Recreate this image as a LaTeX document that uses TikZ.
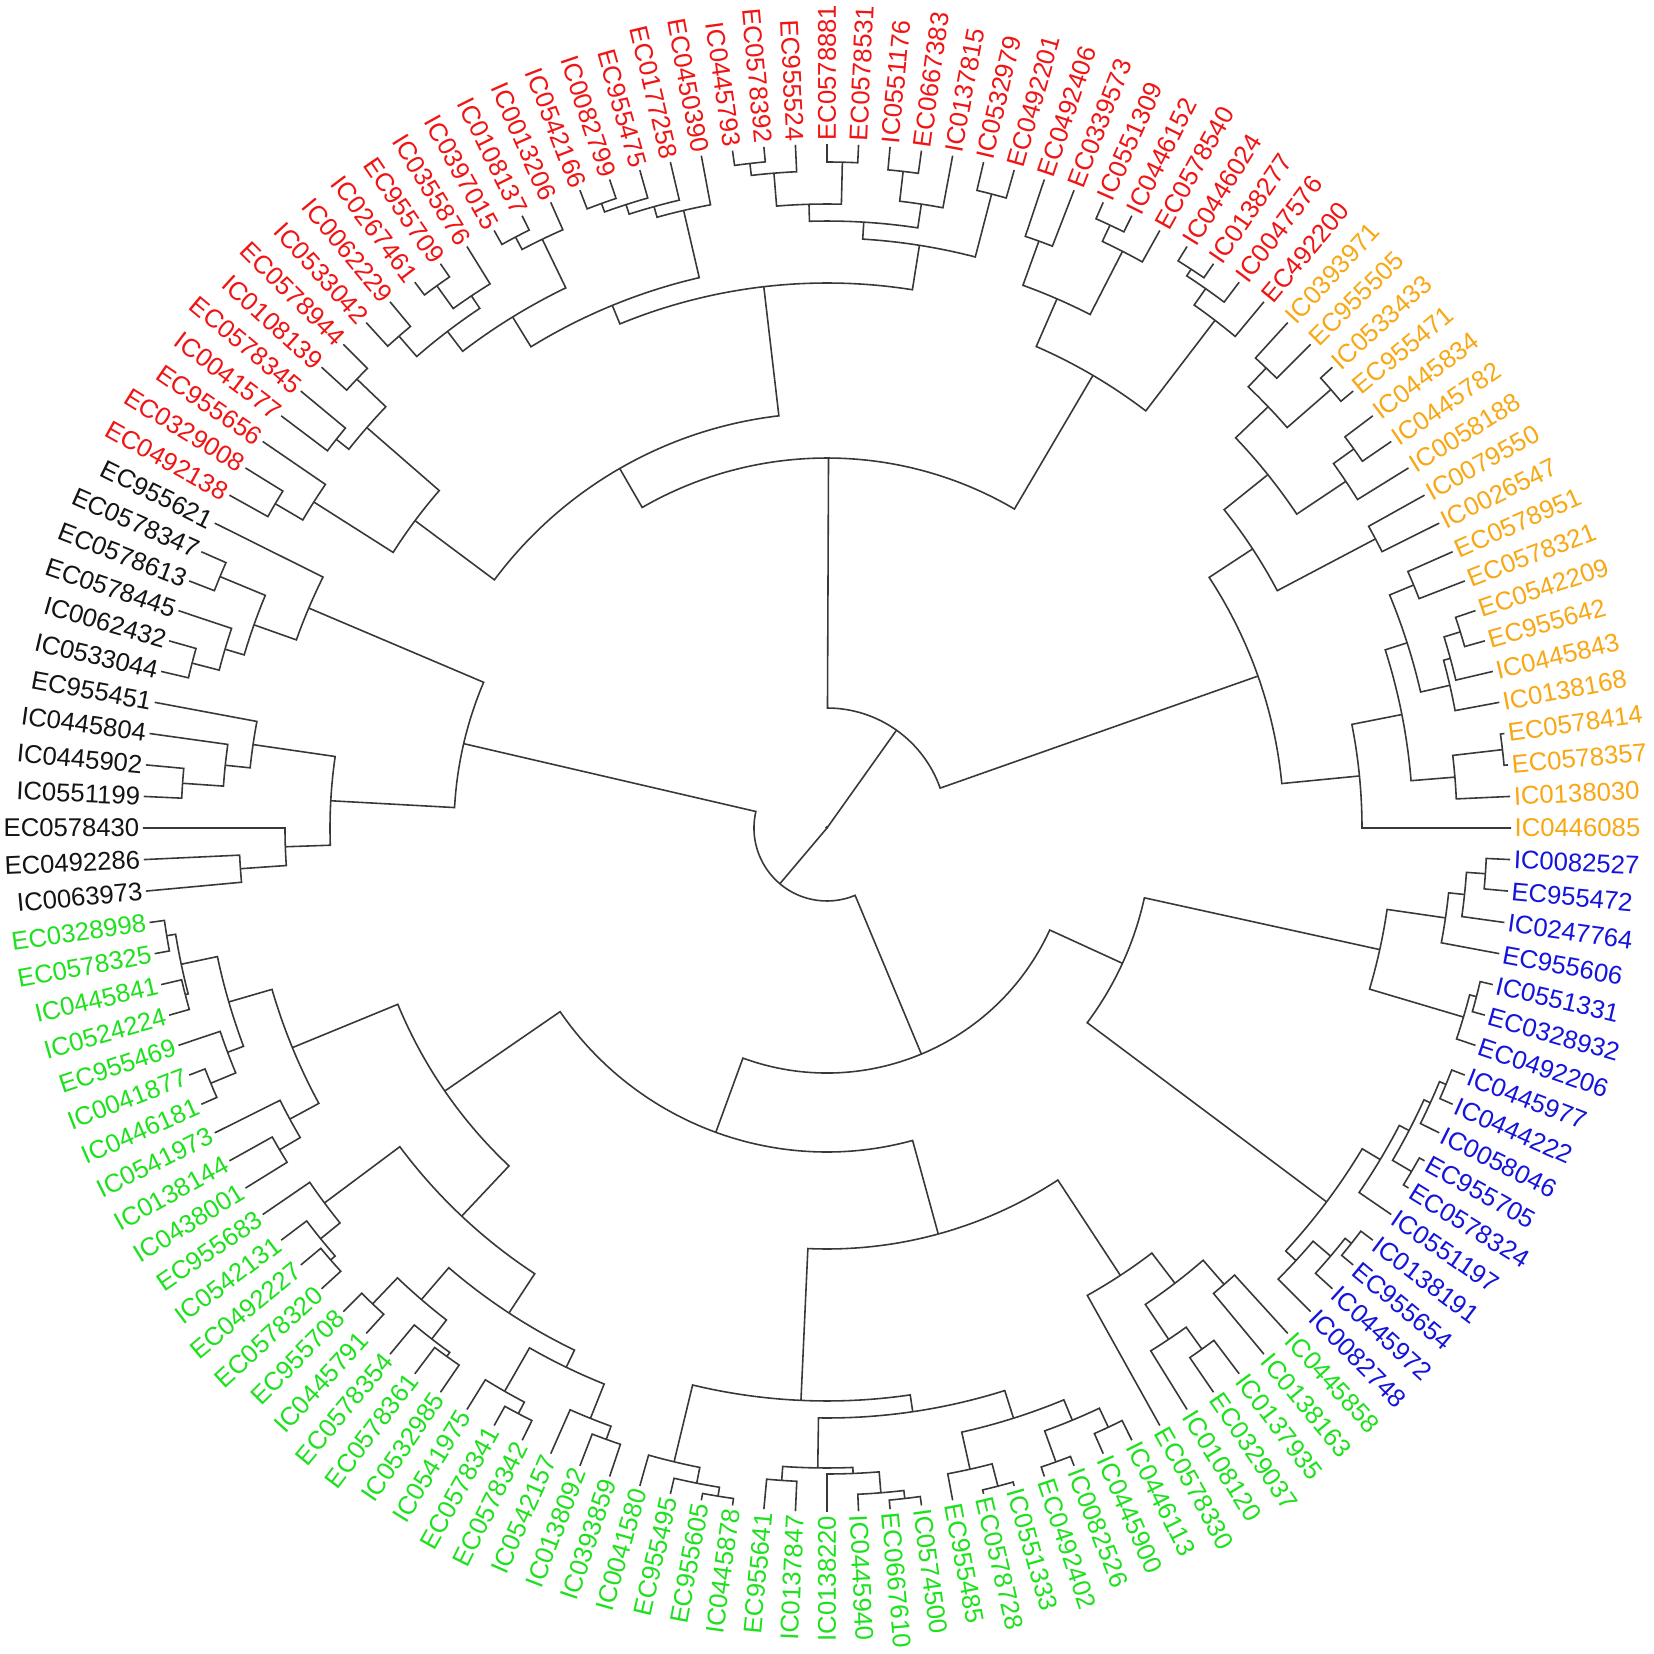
\documentclass[tikz,border=0pt]{standalone}
\usepackage{fontspec}
\setmainfont{Liberation Sans}

\definecolor{cred}{RGB}{240,20,20}
\definecolor{corange}{RGB}{248,168,20}
\definecolor{cblack}{RGB}{20,20,20}
\definecolor{cgreen}{RGB}{30,225,30}
\definecolor{cblue}{RGB}{20,20,220}

% 136 tips round the circle
\def\dang{2.6470588}
\def\rtip{684}

% arc of a clade between its two children, with both stems
\newcommand{\clade}[4]{%
  \edef\cpA{\csname pos@#3\endcsname}%
  \edef\cpB{\csname pos@#4\endcsname}%
  \edef\crA{\csname rad@#3\endcsname}%
  \edef\crB{\csname rad@#4\endcsname}%
  \pgfmathsetmacro\caA{\cpA*\dang}%
  \pgfmathsetmacro\caB{\cpB*\dang}%
  \draw[branch] (\caA:\crA) -- (\caA:#2) arc[start angle=\caA, end angle=\caB, radius=#2] -- (\caB:\crB);
  \pgfmathsetmacro\cpM{(\cpA+\cpB)/2}%
  \expandafter\xdef\csname pos@#1\endcsname{\cpM}%
  \expandafter\xdef\csname rad@#1\endcsname{#2}%
  \coordinate (#1) at ({\cpM*\dang}:#2);
}

% tip label, turned over on the left half
\newcommand{\tiplab}[3]{%
  \pgfmathsetmacro\tang{#1*\dang}%
  \pgfmathtruncatemacro\tflip{(\tang>90.01 && \tang<270.01) ? 1 : 0}%
  \ifnum\tflip=1
    \pgfmathsetmacro\trot{\tang-180}%
    \node[lab, text=#2, anchor=east, rotate=\trot] (n#1) at (\tang:687) {#3};
  \else
    \node[lab, text=#2, anchor=west, rotate=\tang] (n#1) at (\tang:687) {#3};
  \fi}

\begin{document}
\begin{tikzpicture}[x=0.01cm, y=0.01cm,
    branch/.style={draw=black!78, line width=0.45pt},
    lab/.style={font=\fontsize{7.3}{8.8}\selectfont, inner sep=0pt}]
  \useasboundingbox (-827,-826) rectangle (827,828);
  \fill[white] (-827,-826) rectangle (827,828);

  % Leaves
  \foreach \i in {0,...,135}{%
    \expandafter\xdef\csname pos@\i\endcsname{\i}%
    \expandafter\xdef\csname rad@\i\endcsname{\rtip}}

  \foreach \t [count=\i from 0] in {IC0446085, IC0138030, EC0578357, EC0578414,
      IC0138168, IC0445843, EC955642, EC0542209, EC0578321, EC0578951, IC0026547,
      IC0079550, IC0058188, IC0445782, IC0445834, EC955471, IC0533433, EC955505,
      IC0393971}
    {\tiplab{\i}{corange}{\t}}
  \foreach \t [count=\i from 19] in {EC492200, IC0047576, IC0138277, IC0446024,
      EC0578540, IC0446152, IC0551309, EC0339573, EC0492406, EC0492201, IC0532979,
      IC0137815, EC0667383, IC0551176, EC0578531, EC0578881, EC955524, EC0578392,
      IC0445793, EC0450390, EC0177258, EC955475, IC0082799, IC0542166, IC0013206,
      IC0108137, IC0397015, IC0355876, EC955709, IC0267461, IC0062229, IC0533042,
      EC0578944, IC0108139, EC0578345, IC0041577, EC955656, EC0329008, EC0492138}
    {\tiplab{\i}{cred}{\t}}
  \foreach \t [count=\i from 58] in {EC955621, EC0578347, EC0578613, EC0578445,
      IC0062432, IC0533044, EC955451, IC0445804, IC0445902, IC0551199, EC0578430,
      EC0492286, IC0063973}
    {\tiplab{\i}{cblack}{\t}}
  \foreach \t [count=\i from 71] in {EC0328998, EC0578325, IC0445841, IC0524224,
      EC955469, IC0041877, IC0446181, IC0541973, IC0138144, IC0438001, EC955683,
      IC0542131, EC0492227, EC0578320, EC955708, IC0445791, EC0578354, EC0578361,
      IC0532985, IC0541975, EC0578341, EC0578342, IC0542157, IC0138092, IC0393859,
      IC0041580, EC955495, EC955605, IC0445878, EC955641, IC0137847, IC0138220,
      IC0445940, EC0667610, IC0574500, EC955485, EC0578728, IC0551333, EC0492402,
      IC0082526, IC0445900, IC0446113, EC0578330, IC0108120, EC0329037, IC0137935,
      IC0138163, IC0445858}
    {\tiplab{\i}{cgreen}{\t}}
  \foreach \t [count=\i from 119] in {IC0082748, IC0445972, EC955654, IC0138191,
      IC0551197, EC0578324, EC955705, IC0058046, IC0444222, IC0445977, EC0492206,
      EC0328932, IC0551331, EC955606, IC0247764, EC955472, IC0082527}
    {\tiplab{\i}{cblue}{\t}}

  % Orange clades
  \clade{o23}{680}{2}{3}
  \clade{o123}{630}{1}{o23}
  \clade{o67}{663}{6}{7}
  \clade{o567}{646}{5}{o67}
  \clade{o47}{639}{4}{o567}
  \clade{o89}{635}{8}{9}
  \clade{o49}{609}{o47}{o89}
  \clade{o19}{586}{o123}{o49}
  \clade{o09}{535}{0}{o19}
  \clade{o1011}{620}{10}{11}
  \clade{o1314}{649}{13}{14}
  \clade{o1214}{624}{12}{o1314}
  \clade{o1516}{668}{15}{16}
  \clade{o1718}{636}{17}{18}
  \clade{o1518}{610}{o1516}{o1718}
  \clade{o1218}{565}{o1214}{o1518}
  \clade{o1018}{509}{o1011}{o1218}
  \clade{orange}{457}{o09}{o1018}

  % Red clades
  \clade{r2122}{667}{21}{22}
  \clade{r2022}{659}{20}{r2122}
  \clade{r1922}{639}{19}{r2022}
  \clade{r2425}{666}{24}{25}
  \clade{r2325}{648}{23}{r2425}
  \clade{r2627}{624}{26}{27}
  \clade{r2327}{577}{r2325}{r2627}
  \clade{r1927}{525}{r1922}{r2327}
  \clade{r2829}{655}{28}{29}
  \clade{r3132}{661}{31}{32}
  \clade{r3032}{631}{30}{r3132}
  \clade{r3334}{666}{33}{34}
  \clade{r3637}{669}{36}{37}
  \clade{r3537}{657}{35}{r3637}
  \clade{r3337}{624}{r3334}{r3537}
  \clade{r3037}{607}{r3032}{r3337}
  \clade{r2837}{590}{r2829}{r3037}
  \clade{r4142}{664}{41}{42}
  \clade{r4042}{655}{40}{r4142}
  \clade{r3942}{645}{39}{r4042}
  \clade{r3842}{634}{38}{r3942}
  \clade{r4445}{668}{44}{45}
  \clade{r4345}{654}{43}{r4445}
  \clade{r4748}{668}{47}{48}
  \clade{r4648}{640}{46}{r4748}
  \clade{r4950}{652}{49}{50}
  \clade{r4650}{625}{r4648}{r4950}
  \clade{r4350}{600}{r4345}{r4650}
  \clade{r3850}{565}{r3842}{r4350}
  \clade{r2850}{545}{r2837}{r3850}
  \clade{r5152}{650}{51}{52}
  \clade{r5354}{626}{53}{54}
  \clade{r5154}{610}{r5152}{r5354}
  \clade{r5657}{640}{56}{57}
  \clade{r5557}{608}{55}{r5657}
  \clade{r5157}{514}{r5154}{r5557}
  \clade{r2857}{415}{r2850}{r5157}
  \clade{red}{370}{r1927}{r2857}
  \clade{top}{120}{orange}{red}

  % Black clades
  \clade{k5960}{657}{59}{60}
  \clade{k6263}{656}{62}{63}
  \clade{k6163}{628}{61}{k6263}
  \clade{k5963}{608}{k5960}{k6163}
  \clade{k5863}{563}{58}{k5963}
  \clade{k6667}{646}{66}{67}
  \clade{k6567}{605}{65}{k6667}
  \clade{k6467}{580}{64}{k6567}
  \clade{k6970}{588}{69}{70}
  \clade{k6870}{542}{68}{k6970}
  \clade{k6470}{497}{k6467}{k6870}
  \clade{black}{373}{k5863}{k6470}

  % Green clades
  \clade{g7172}{669}{71}{72}
  \clade{g7374}{663}{73}{74}
  \clade{g7174}{660}{g7172}{g7374}
  \clade{g7677}{667}{76}{77}
  \clade{g7577}{640}{75}{g7677}
  \clade{g7177}{623}{g7174}{g7577}
  \clade{g7980}{635}{79}{80}
  \clade{g7880}{611}{78}{g7980}
  \clade{g7180}{578}{g7177}{g7880}
  \clade{g8384}{658}{83}{84}
  \clade{g8284}{652}{82}{g8384}
  \clade{g8184}{627}{81}{g8284}
  \clade{g8586}{658}{85}{86}
  \clade{g8889}{651}{88}{89}
  \clade{g8789}{646}{87}{g8889}
  \clade{g8589}{622}{g8586}{g8789}
  \clade{g9192}{662}{91}{92}
  \clade{g9092}{649}{90}{g9192}
  \clade{g9495}{650}{94}{95}
  \clade{g9395}{636}{93}{g9495}
  \clade{g9095}{599}{g9092}{g9395}
  \clade{g8595}{580}{g8589}{g9095}
  \clade{g8195}{533}{g8184}{g8595}
  \clade{g7195}{464}{g7180}{g8195}
  \clade{g9899}{677}{98}{99}
  \clade{g9799}{668}{97}{g9899}
  \clade{g9699}{652}{96}{g9799}
  \clade{g100101}{654}{100}{101}
  \clade{g104105}{675}{104}{105}
  \clade{g103105}{667}{103}{g104105}
  \clade{g102105}{646}{102}{g103105}
  \clade{g100105}{640}{g100101}{g102105}
  \clade{g107108}{680}{107}{108}
  \clade{g106108}{657}{106}{g107108}
  \clade{g109110}{674}{109}{110}
  \clade{g111112}{662}{111}{112}
  \clade{g109112}{641}{g109110}{g111112}
  \clade{g106112}{619}{g106108}{g109112}
  \clade{g100112}{590}{g100105}{g106112}
  \clade{g96112}{573}{g9699}{g100112}
  \clade{g115116}{642}{115}{116}
  \clade{g114116}{615}{114}{g115116}
  \clade{g117118}{605}{117}{118}
  \clade{g114118}{573}{g114116}{g117118}
  \clade{g113118}{535}{113}{g114118}
  \clade{g96118}{421}{g96112}{g113118}
  \clade{green}{324}{g7195}{g96118}

  % Blue clades
  \clade{b121122}{669}{121}{122}
  \clade{b120122}{661}{120}{b121122}
  \clade{b119122}{638}{119}{b120122}
  \clade{b124125}{678}{124}{125}
  \clade{b127128}{670}{127}{128}
  \clade{b126128}{663}{126}{b127128}
  \clade{b124128}{656}{b124125}{b126128}
  \clade{b123128}{645}{123}{b124128}
  \clade{b119128}{624}{b119122}{b123128}
  \clade{b134135}{660}{134}{135}
  \clade{b133135}{641}{133}{b134135}
  \clade{b132135}{625}{132}{b133135}
  \clade{b130131}{671}{130}{131}
  \clade{b129131}{664}{129}{b130131}
  \clade{b129135}{566}{b129131}{b132135}
  \clade{blue}{325}{b119128}{b129135}

  % Deep joins
  \clade{lower}{245}{green}{blue}
  \clade{bottom}{73}{black}{lower}
  \clade{root}{0.5}{top}{bottom}
  \fill[black!78] (root) circle (1.6);
\end{tikzpicture}
\end{document}
